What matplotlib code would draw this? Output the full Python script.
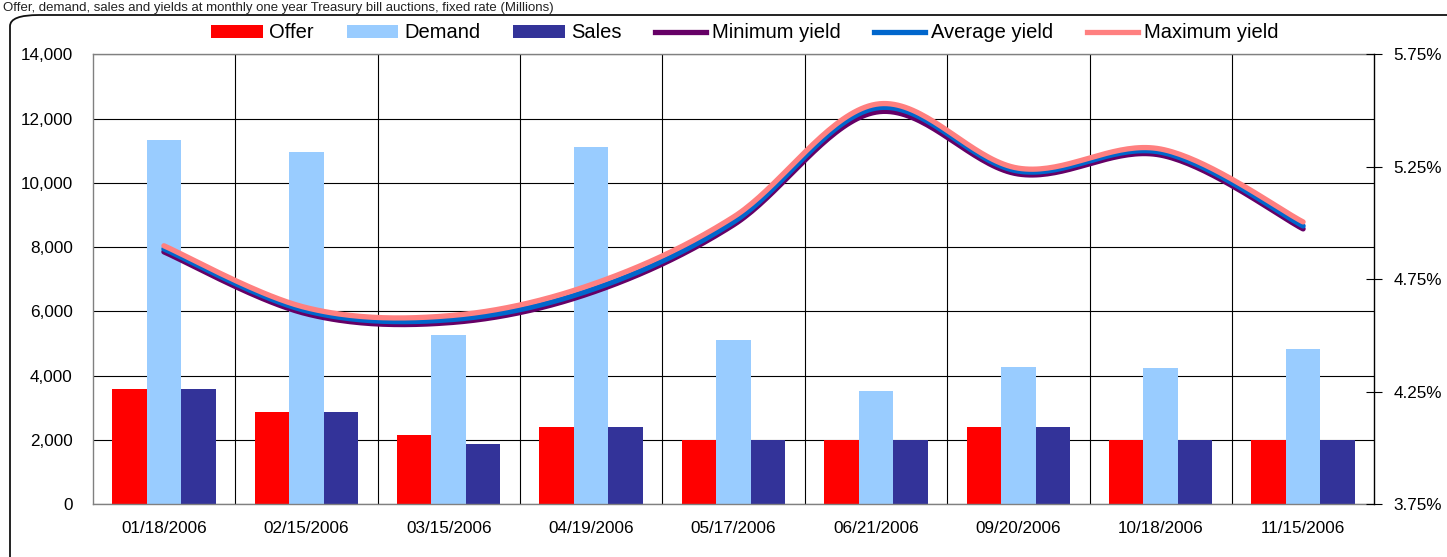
import numpy as np
import matplotlib
matplotlib.use("Agg")
import matplotlib.pyplot as plt
from matplotlib.patches import FancyBboxPatch, Patch
from matplotlib.lines import Line2D
from matplotlib.ticker import FixedLocator, FuncFormatter

plt.rcParams["font.family"] = ["Liberation Sans", "DejaVu Sans"]

# Auction data (amounts in millions, yields in percent)
dates = ["01/18/2006", "02/15/2006", "03/15/2006", "04/19/2006", "05/17/2006",
         "06/21/2006", "09/20/2006", "10/18/2006", "11/15/2006"]
offer = [3600, 2880, 2150, 2400, 2000, 2000, 2400, 2000, 2000]
demand = [11330, 10960, 5270, 11110, 5110, 3530, 4270, 4240, 4830]
sales = [3600, 2880, 1880, 2400, 2000, 2000, 2400, 2000, 2000]
min_yield = [4.872, 4.597, 4.557, 4.690, 4.992, 5.493, 5.218, 5.302, 4.974]
avg_yield = [4.885, 4.610, 4.570, 4.703, 5.005, 5.511, 5.231, 5.315, 4.987]
max_yield = [4.899, 4.624, 4.588, 4.726, 5.027, 5.528, 5.244, 5.329, 5.005]

C_OFFER = "#FF0000"
C_DEMAND = "#99CCFF"
C_SALES = "#333399"
C_MIN = "#660066"
C_AVG = "#0066CC"
C_MAX = "#FF8080"


def smooth(xs, ys, n=40):
    """Cubic Bezier smoothing through every point (Catmull-Rom control points)."""
    xs = np.asarray(xs, float)
    ys = np.asarray(ys, float)
    px, py = [], []
    m = len(xs)
    for i in range(m - 1):
        i0 = max(i - 1, 0)
        i3 = min(i + 2, m - 1)
        p0 = np.array([xs[i], ys[i]])
        p3 = np.array([xs[i + 1], ys[i + 1]])
        c1 = p0 + (np.array([xs[i + 1], ys[i + 1]]) - np.array([xs[i0], ys[i0]])) / 6.0
        c2 = p3 - (np.array([xs[i3], ys[i3]]) - np.array([xs[i], ys[i]])) / 6.0
        t = np.linspace(0, 1, n)[:, None]
        seg = ((1 - t) ** 3) * p0 + 3 * ((1 - t) ** 2) * t * c1 + 3 * (1 - t) * t ** 2 * c2 + t ** 3 * p3
        if i > 0:
            seg = seg[1:]
        px.extend(seg[:, 0])
        py.extend(seg[:, 1])
    return np.array(px), np.array(py)


W, H = 1447, 557
fig = plt.figure(figsize=(W / 100, H / 100), dpi=100)

# Rounded frame around the chart
frame = FancyBboxPatch((10 / W, -30 / H), (W + 40) / W, (H + 30 - 15) / H,
                       boxstyle="round,pad=0,rounding_size=0.02",
                       transform=fig.transFigure, fill=False,
                       edgecolor="#111111", linewidth=1.3, zorder=0)
fig.patches.append(frame)

# Title line above the frame
fig.text(0.002, 1 - 11 / H,
         "Offer, demand, sales and yields at monthly one year Treasury bill auctions, fixed rate (Millions)",
         fontsize=9.5, va="baseline", ha="left", color="#222222")

left, right = 92.7 / W, 1374.3 / W
bottom, top = 1 - 504.3 / H, 1 - 54.3 / H
ax = fig.add_axes([left, bottom, right - left, top - bottom])

x = np.arange(len(dates))
bw = 0.242
ax.bar(x - bw, offer, bw, color=C_OFFER, zorder=2)
ax.bar(x, demand, bw, color=C_DEMAND, zorder=2)
ax.bar(x + bw, sales, bw, color=C_SALES, zorder=2)

ax.set_xlim(-0.5, len(dates) - 0.5)
ax.set_ylim(0, 14000)
ax.set_yticks(np.arange(0, 14001, 2000))
ax.yaxis.set_major_formatter(FuncFormatter(lambda v, p: f"{int(v):,}"))
ax.set_xticks(x)
ax.set_xticklabels(dates)
ax.xaxis.set_minor_locator(FixedLocator(np.arange(0.5, len(dates) - 0.5, 1)))
ax.tick_params(axis="x", which="both", length=0, pad=12, labelsize=12.3)
ax.tick_params(axis="y", length=0, pad=14.4, labelsize=12.3)
ax.set_axisbelow(True)
ax.grid(axis="y", which="major", color="#000000", linewidth=0.8)
ax.grid(axis="x", which="minor", color="#000000", linewidth=0.8)
for s in ("left", "top", "bottom"):
    ax.spines[s].set_color("#808080")
    ax.spines[s].set_linewidth(1.0)
ax.spines["right"].set_visible(False)

# Yield lines on the right-hand axis
ax2 = ax.twinx()
ax2.set_ylim(3.75, 5.75)
ax2.set_yticks([3.75, 4.25, 4.75, 5.25, 5.75])
ax2.yaxis.set_major_formatter(FuncFormatter(lambda v, p: f"{v:.2f}%"))
ax2.tick_params(axis="y", direction="inout", length=11.5, width=0.8,
                pad=7.9, labelsize=12.3)
for s in ("left", "top", "bottom"):
    ax2.spines[s].set_visible(False)
ax2.spines["right"].set_color("#000000")
ax2.spines["right"].set_linewidth(1.0)

lw = 3.8
for ys, c in ((min_yield, C_MIN), (avg_yield, C_AVG), (max_yield, C_MAX)):
    sx, sy = smooth(x, ys)
    ax2.plot(sx, sy, color=c, linewidth=lw, solid_capstyle="round",
             solid_joinstyle="round", zorder=3)

# Legend across the top
handles = [
    Patch(facecolor=C_OFFER, edgecolor="none"),
    Patch(facecolor=C_DEMAND, edgecolor="none"),
    Patch(facecolor=C_SALES, edgecolor="none"),
    Line2D([], [], color=C_MIN, linewidth=lw),
    Line2D([], [], color=C_AVG, linewidth=lw),
    Line2D([], [], color=C_MAX, linewidth=lw),
]
labels = ["Offer", "Demand", "Sales", "Minimum yield", "Average yield", "Maximum yield"]
fig.legend(handles, labels, loc="center", bbox_to_anchor=(745 / W, 1 - 33 / H),
           ncol=6, frameon=False, fontsize=14.5, handlelength=2.55,
           handleheight=0.65, handletextpad=0.3, columnspacing=1.65,
           borderaxespad=0, borderpad=0)

fig.savefig("out.png", dpi=100)
